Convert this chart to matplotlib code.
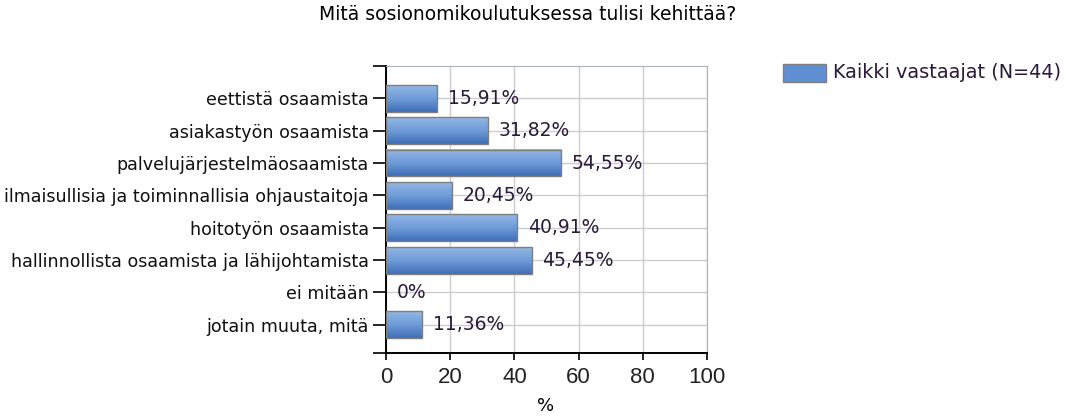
import numpy as np
import matplotlib.pyplot as plt
from matplotlib.colors import LinearSegmentedColormap

title = "Mitä sosionomikoulutuksessa tulisi kehittää?"
categories = ["eettistä osaamista", "asiakastyön osaamista", "palvelujärjestelmäosaamista",
              "ilmaisullisia ja toiminnallisia ohjaustaitoja", "hoitotyön osaamista",
              "hallinnollista osaamista ja lähijohtamista", "ei mitään", "jotain muuta, mitä"]
values = [15.91, 31.82, 54.55, 20.45, 40.91, 45.45, 0, 11.36]
series_name = "Kaikki vastaajat (N=44)"
xticks = [0, 20, 40, 60, 80, 100]

fig = plt.figure(figsize=(10.7, 4.17), dpi=100)
ax = fig.add_axes([386/1070, 1-353/417, (707-386)/1070, (353-66)/417])

# gradient for bars, light on top dark at bottom
cmap = LinearSegmentedColormap.from_list("bar", ["#94b8e6", "#6f9bd8", "#3f6fb9"])
grad = np.linspace(0, 1, 64).reshape(-1, 1)
h = 0.83
ypos = np.arange(len(categories))
for y, v in zip(ypos, values):
    if v > 0:
        ax.imshow(grad, cmap=cmap, aspect="auto", extent=(0, v, y + h/2, y - h/2),
                  zorder=3, interpolation="bilinear")
        ax.add_patch(plt.Rectangle((0, y - h/2), v, h, fill=False, edgecolor="#7f7f7f",
                                   lw=1.0, zorder=4))
    lab = ("%.2f" % v).replace(".", ",") + "%" if v > 0 else "0%"
    ax.text(v + 3.3, y, lab, va="center", ha="left", fontsize=13.5, color="#2b1a3a", zorder=5)

ax.set_xlim(0, 100)
ax.set_ylim(len(categories) - 0.13, -1.0)
ax.set_xticks(xticks)
ax.set_xticklabels([str(t) for t in xticks], fontsize=16, color="#222222",
                   family=["Liberation Sans", "DejaVu Sans"])
ax.set_yticks(ypos)
ax.set_yticklabels(categories, fontsize=12.6, color="#111111")
ax.set_yticks([len(categories) - 0.13, -1.0], minor=True)
ax.tick_params(axis="y", which="both", length=9.5, width=1.2, pad=3)
ax.tick_params(axis="x", length=5, width=1.2, pad=5)
ax.grid(True, color="#cccccc", lw=1.0, zorder=0)
ax.set_axisbelow(True)
for s in ["top", "right"]:
    ax.spines[s].set_color("#a8b4c0")
ax.spines["left"].set_linewidth(1.4)
ax.spines["bottom"].set_linewidth(1.4)

fig.text(546/1070, 1-415/417, "%", ha="center", va="bottom", fontsize=13)
fig.text(528/1070, 1-15/417, title, ha="center", va="center", fontsize=13.5)

# legend
fig.patches.append(plt.Rectangle((783/1070, 1-82/417), 43/1070, 18/417, transform=fig.transFigure,
                                 facecolor="#5f8fd2", edgecolor="#7f7f7f", lw=1.0))
fig.text(833/1070, 1-73/417, series_name, ha="left", va="center", fontsize=13.9, color="#2b1a3a")

fig.savefig("out.png", dpi=100)
